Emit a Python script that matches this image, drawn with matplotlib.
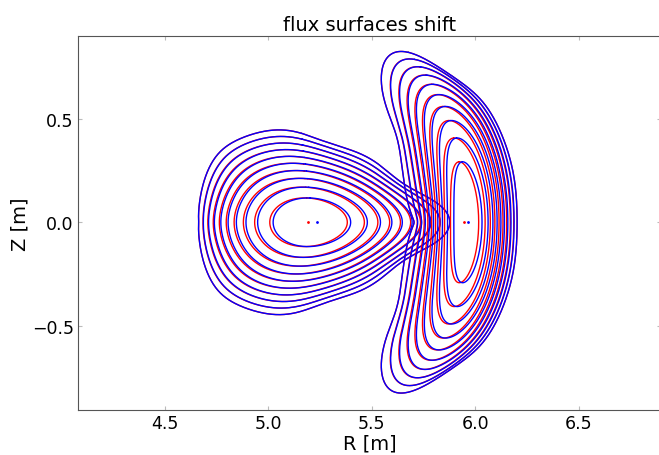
import numpy as np
import matplotlib.pyplot as plt

# normalised flux of the plotted surfaces
s_levels = [0.1, 0.2, 0.3, 0.4, 0.5, 0.6, 0.7, 0.8, 0.9, 1.0]

# triangular cross-section: outer boundary, upper half (outboard tip -> inboard)
tri_R = [5.905, 5.87, 5.80, 5.70, 5.50, 5.30, 5.153, 4.99, 4.83, 4.751, 4.686, 4.665, 4.66]
tri_Z = [0.00, 0.05, 0.095, 0.16, 0.305, 0.387, 0.435, 0.448, 0.403, 0.323, 0.21, 0.10, 0.00]
tri_inner = [0.187, 0.117]        # half width / half height of innermost surface
tri_axis = [5.19, 5.235]          # magnetic axis R, red / blue

# bean cross-section: outer boundary, upper half (outboard -> inboard waist)
bean_R = [6.207, 6.20, 6.17, 6.105, 6.024, 5.895, 5.734, 5.62, 5.565, 5.545, 5.57, 5.605, 5.645, 5.68, 5.70]
bean_Z = [0.00, 0.15, 0.30, 0.50, 0.597, 0.709, 0.806, 0.83, 0.815, 0.76, 0.597, 0.436, 0.275, 0.11, 0.00]
bean_inner = [0.07, 0.29]
bean_axis = [5.947, 5.966]

surf_shift = 0.018   # outward shift of the blue surfaces near the axis


def boundary_modes(R, Z, M=8, n_iter=4):
    # smooth the closed boundary (Chaikin), then Fourier-fit the upper half
    R = np.asarray(R, float)
    Z = np.asarray(Z, float)
    n = len(R)
    P = np.column_stack([np.concatenate([R, R[-2:0:-1]]),
                         np.concatenate([Z, -Z[-2:0:-1]])])
    for _ in range(n_iter):
        Q = np.roll(P, -1, axis=0)
        P = np.column_stack([0.75 * P + 0.25 * Q, 0.25 * P + 0.75 * Q]).reshape(-1, 2)
    k = (n - 1) * 2 ** n_iter
    start = [(P[0, 0] + P[-1, 0]) / 2, 0.0]
    end = [(P[k - 1, 0] + P[k, 0]) / 2, 0.0]
    U = np.vstack([start, P[:k], end])
    arc = np.concatenate([[0], np.cumsum(np.hypot(*np.diff(U, axis=0).T))])
    t = np.pi * arc / arc[-1]
    m = np.arange(M + 1)
    a = np.linalg.lstsq(np.cos(np.outer(t, m)), U[:, 0], rcond=None)[0]
    b = np.linalg.lstsq(np.sin(np.outer(t, m[1:])), U[:, 1], rcond=None)[0]
    return a, np.concatenate([[0], b])


def surface(a, b, inner, r_axis, s, shift=0.0):
    # start at the top so the curve's joint is not on the crowded midplane
    t = np.linspace(0, 2 * np.pi, 721) + np.pi / 2
    rho = np.sqrt(s)
    rho_in = np.sqrt(s_levels[0])
    w = (s - s_levels[0]) / (1 - s_levels[0])
    a = a.copy()
    b = b.copy()
    a[1] = inner[0] / rho_in + (a[1] - inner[0] / rho_in) * w
    b[1] = inner[1] / rho_in + (b[1] - inner[1] / rho_in) * w
    m = np.arange(1, len(a))
    R = r_axis + (a[0] - r_axis) * s + (a[1:] * rho ** m) @ np.cos(np.outer(m, t))
    Z = (b[1:] * rho ** m) @ np.sin(np.outer(m, t))
    return R + shift * (1 - s), Z


fig = plt.figure(figsize=(6.59, 4.56), dpi=100)
ax = fig.add_axes([0.1184, 0.0987, 0.885, 0.8202])

for R_b, Z_b, inner, axes_R in [(tri_R, tri_Z, tri_inner, tri_axis),
                                (bean_R, bean_Z, bean_inner, bean_axis)]:
    a, b = boundary_modes(R_b, Z_b)
    for s in s_levels:
        R, Z = surface(a, b, inner, axes_R[0], s)
        ax.plot(R, Z, color='red', lw=1.0, solid_capstyle='round')
        R, Z = surface(a, b, inner, axes_R[0], s, surf_shift)
        ax.plot(R, Z, color='blue', lw=1.0, solid_capstyle='round')
    ax.plot([axes_R[0]], [0], '.', color='red', ms=2)
    ax.plot([axes_R[1]], [0], '.', color='blue', ms=2)

ax.set_xlim(4.079, 6.9)
ax.set_ylim(-0.908, 0.901)
ax.set_xticks([4.5, 5.0, 5.5, 6.0, 6.5])
ax.set_yticks([-0.5, 0.0, 0.5])
ax.tick_params(direction='in', length=3, color='#bbbbbb', labelsize=12.5, pad=3,
               top=True, right=True)
for sp in ax.spines.values():
    sp.set_color('#555555')

ax.set_title('flux surfaces shift', fontsize=14, pad=4)
ax.set_xlabel('R [m]', fontsize=14, labelpad=1)
ax.set_ylabel('Z [m]', fontsize=14, labelpad=2)

fig.savefig('out.png', dpi=100)
